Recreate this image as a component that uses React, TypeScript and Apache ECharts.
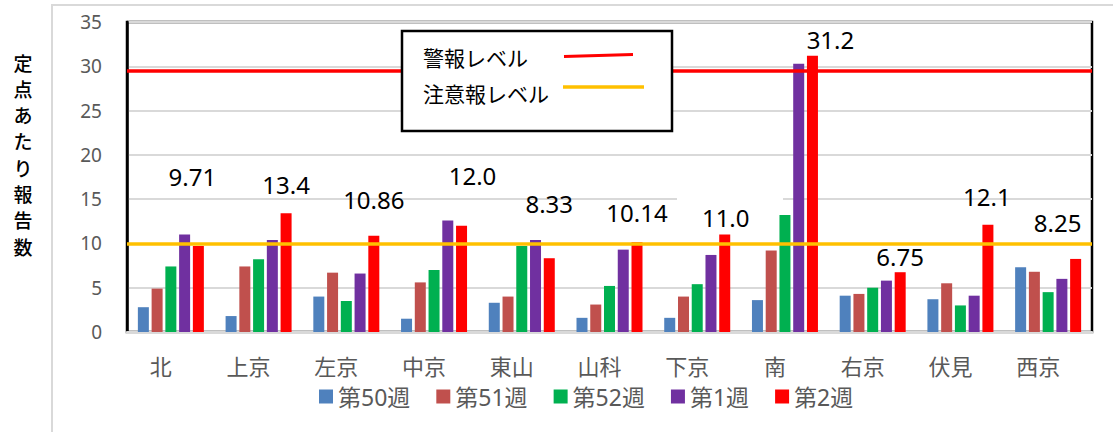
import React, { useEffect, useRef } from "react";
import * as echarts from "echarts";

const CATEGORIES = ["北", "上京", "左京", "中京", "東山", "山科", "下京", "南", "右京", "伏見", "西京"];
const SERIES_NAMES = ["第50週", "第51週", "第52週", "第1週", "第2週"];
const W50 = [2.8, 1.8, 4.0, 1.5, 3.3, 1.6, 1.6, 3.6, 4.1, 3.7, 7.3];
const W51 = [4.9, 7.4, 6.7, 5.6, 4.0, 3.1, 4.0, 9.2, 4.3, 5.5, 6.8];
const W52 = [7.4, 8.2, 3.5, 7.0, 9.7, 5.2, 5.4, 13.2, 5.0, 3.0, 4.5];
const W1 = [11.0, 10.4, 6.6, 12.6, 10.4, 9.3, 8.7, 30.3, 5.8, 4.1, 6.0];
const W2 = [9.71, 13.4, 10.86, 12.0, 8.33, 10.14, 11.0, 31.2, 6.75, 12.1, 8.25];
const W2_LABELS = ["9.71", "13.4", "10.86", "12.0", "8.33", "10.14", "11.0", "31.2", "6.75", "12.1", "8.25"];
const WARNING_LEVEL = 29.5;
const ALERT_LEVEL = 10;
const Y_TICKS = [0, 5, 10, 15, 20, 25, 30, 35];
const Y_TITLE = "定点あたり報告数";

// label nudges [dx, dy] for the 第2週 value labels
const LABEL_NUDGE = [
  [-6, -53], [0, -12], [0, -19], [11, -33], [0, -38], [0, -13],
  [1, 0], [18, 1], [0, 1], [-1, -11], [-18, -19],
];

const COLORS = ["#4F81BD", "#C0504D", "#00B050", "#7030A0", "#FF0000"];
const FONT = '"Noto Sans", "Noto Sans CJK JP", sans-serif';

export default function App() {
  const ref = useRef<HTMLDivElement>(null);
  useEffect(() => {
    document.body.style.margin = "0";
    const chart = echarts.init(ref.current!, null, { renderer: "svg" });
    const values = [W50, W51, W52, W1, W2];
    const barSeries = values.map((arr, si) => ({
      name: SERIES_NAMES[si],
      type: "bar",
      barWidth: 11,
      barGap: "25%",
      z: 2,
      itemStyle: { color: COLORS[si] },
      data:
        si === 4
          ? arr.map((v, i) => ({
              value: v,
              label: {
                show: true,
                position: "top",
                offset: LABEL_NUDGE[i],
                formatter: () => W2_LABELS[i],
                color: "#000",
                fontSize: 24,
                fontFamily: FONT,
              },
            }))
          : arr,
    }));
    const titleTexts = Y_TITLE.split("").map((ch, i) => ({
      type: "text",
      z: 10,
      x: 23,
      y: 62 + i * 26.3,
      style: {
        text: ch,
        fontSize: 19,
        fontWeight: 500,
        lineHeight: 24,
        fill: "#000",
        align: "center",
        verticalAlign: "middle",
        fontFamily: '"Noto Sans CJK JP", sans-serif',
      },
    }));
    const option: any = {
      animation: false,
      textStyle: { fontFamily: FONT },
      grid: {
        left: 127,
        top: 22,
        right: 21,
        bottom: 100,
        show: true,
        borderColor: "#000",
        borderWidth: 2.5,
        backgroundColor: "transparent",
      },
      legend: {
        data: SERIES_NAMES,
        left: 314,
        top: 380,
        itemWidth: 14,
        itemHeight: 14,
        itemGap: 26,
        icon: "rect",
        textStyle: { color: "#595959", fontSize: 23, fontFamily: FONT },
      },
      xAxis: {
        type: "category",
        data: CATEGORIES,
        axisLine: { show: true, lineStyle: { color: "#D9D9D9", width: 3 } },
        axisTick: { show: false },
        axisLabel: {
          color: "#595959",
          fontSize: 22,
          fontFamily: FONT,
          margin: 23,
          padding: [0, 20, 0, 0],
        },
      },
      yAxis: {
        type: "value",
        min: Y_TICKS[0],
        max: Y_TICKS[Y_TICKS.length - 1],
        interval: 5,
        axisLine: { show: true, lineStyle: { color: "#000", width: 2.5 } },
        axisTick: { show: false },
        axisLabel: { color: "#595959", fontSize: 19, fontFamily: FONT, margin: 25 },
        splitLine: { show: true, lineStyle: { color: "#D9D9D9", width: 2 } },
      },
      series: [
        ...barSeries,
        {
          name: "levels",
          type: "line",
          data: [],
          z: 5,
          markLine: {
            silent: true,
            symbol: "none",
            label: { show: false },
            data: [
              { yAxis: WARNING_LEVEL, lineStyle: { color: "#FF0000", width: 3.5, type: "solid" } },
              { yAxis: ALERT_LEVEL, lineStyle: { color: "#FFC000", width: 3.5, type: "solid" } },
            ],
          },
        },
      ],
      graphic: [
        {
          type: "rect",
          z: 0,
          shape: { x: 52, y: 5, width: 1200, height: 600 },
          style: { fill: "none", stroke: "#D9D9D9", lineWidth: 2 },
        },
        {
          type: "rect",
          z: 1,
          shape: { x: 677, y: 197, width: 106, height: 5 },
          style: { fill: "#fff" },
        },
        ...titleTexts,
        {
          type: "group",
          z: 100,
          children: [
            {
              type: "rect",
              z: 100,
              shape: { x: 402, y: 31, width: 270, height: 100 },
              style: { fill: "#fff", stroke: "#000", lineWidth: 2.5 },
            },
            {
              type: "text",
              z: 101,
              x: 423,
              y: 58,
              style: { text: "警報レベル", fontSize: 21, fill: "#000", verticalAlign: "middle", fontFamily: FONT },
            },
            {
              type: "text",
              z: 101,
              x: 423,
              y: 94,
              style: { text: "注意報レベル", fontSize: 21, fill: "#000", verticalAlign: "middle", fontFamily: FONT },
            },
            {
              type: "line",
              z: 101,
              shape: { x1: 564, y1: 56.5, x2: 633, y2: 54.5 },
              style: { stroke: "#FF0000", lineWidth: 3 },
            },
            {
              type: "line",
              z: 101,
              shape: { x1: 563, y1: 87, x2: 644, y2: 87 },
              style: { stroke: "#FFC000", lineWidth: 3.5 },
            },
          ],
        },
      ],
    };
    chart.setOption(option);
    return () => chart.dispose();
  }, []);
  return <div ref={ref} style={{ width: 1113, height: 432 }} />;
}
